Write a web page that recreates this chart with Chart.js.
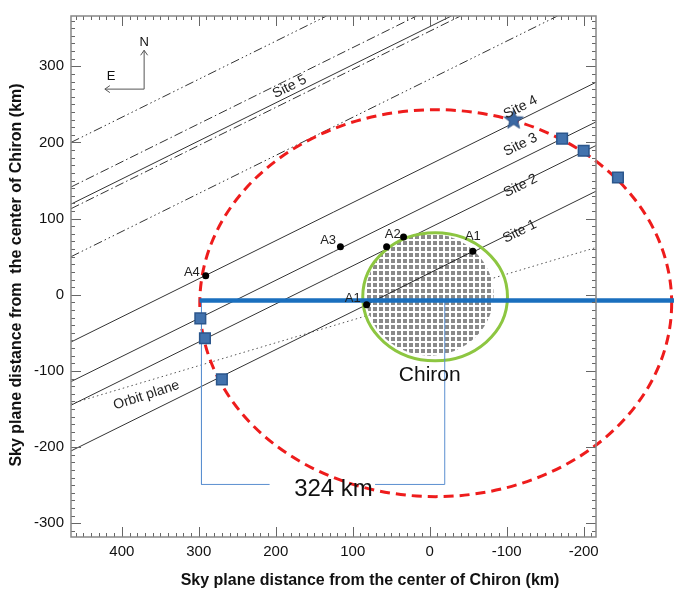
<!DOCTYPE html>
<html>
<head>
<meta charset="utf-8">
<script src="https://cdn.jsdelivr.net/npm/chart.js@4.4.1/dist/chart.umd.min.js"></script>
<style>
    html, body { margin: 0; padding: 0; background: #fff; }
    #wrap { width: 674px; height: 592px; }
</style>
</head>
<body>
<div id="wrap"><canvas id="occChart"></canvas></div>
<script>
// axis limits (km), x runs from east (left) to west (right)
const xMin = -216, xMax = 466;
const yMin = -318, yMax = 366;

// chords of sites 1-4: y where they cross the left frame (x=466) and the right frame (x=-216)
const siteNames = ["Site 1", "Site 2", "Site 3", "Site 4"];
const siteLeftY = [-205, -145, -114, -62];
const siteRightY = [136, 196, 227, 279];

// site 5 and its error lines: y on the left frame, x where they leave through the top frame
const upperLeftY = [200, 141.5, 119, 113, 50];
const upperTopX = [134, 17, -28, -40, -166];

// orbit plane
const orbitX = [466, -216];
const orbitY = [-143, 62];

// chord through the body between the two A1 contacts
const chordX = [82, -56];
const chordY = [-13, 57];

// contact points
const contactX = [82, -56, 56, 34, 116, 291];
const contactY = [-13, 57, 63, 76, 63, 25];

// ring detections (squares) and the star
const ringX = [298, 292, 270, -172, -200, -244.5];
const ringY = [-31, -57, -111, 205, 189, 154];
const starX = [-109];
const starY = [230];

// 324 km bracket and the thick blue line
const blueLineX = [299, -330];
const blueLineY = [-7.5, -7.5];
const bracketLeftX = [296.5, 296.5, 208];
const bracketLeftY = [-7.5, -249, -249];
const bracketRightX = [71, -19.5, -19.5];
const bracketRightY = [-249, -249, -7];

// ellipses: centre and semi axes (km)
const bodyShape = { cx: 0, cy: 0, rx: 83, ry: 80 };
const greenShape = { cx: -7, cy: -2.6, rx: 94, ry: 84 };
const ringShape = { cx: -7.8, cy: -11, rx: 306.5, ry: 254 };

// text labels
const textLabels = ["Site 1", "Site 2", "Site 3", "Site 4", "Site 5", "Orbit plane"];
const textX = [-117, -118, -118, -118, 182, 368];
const textY = [83, 143, 197, 246, 273, -132];
const textAngle = [-26.6, -26.6, -26.6, -26.6, -26.6, -18];

const contactNames = ["A1", "A1", "A2", "A3", "A4"];
const contactNameX = [100, -56, 48, 132, 309];
const contactNameY = [-5, 77, 79, 71, 30];

const DASH3 = [9, 3, 1.5, 3, 1.5, 3, 1.5, 3];
const DASH1 = [9, 3, 1.5, 3];
const upperDash = [DASH3, DASH1, [], DASH1, DASH3];

const FONT = "'Liberation Sans', Arial, sans-serif";

function toPts(xs, ys)
{
    return xs.map((x, i) => ({ x: x, y: ys[i] }));
}

// pattern for the body
const patCanvas = document.createElement("canvas");
patCanvas.width = 6;
patCanvas.height = 6;
const pctx = patCanvas.getContext("2d");
pctx.fillStyle = "#ffffff";
pctx.fillRect(0, 0, 6, 6);
pctx.fillStyle = "#8a8a8a";
pctx.fillRect(1, 1, 4, 4);
const bodyPattern = pctx.createPattern(patCanvas, "repeat");

// filled star marker
const starCanvas = document.createElement("canvas");
starCanvas.width = 22;
starCanvas.height = 22;
const sctx = starCanvas.getContext("2d");
sctx.beginPath();
for (let i = 0; i < 10; i++)
{
    const r = i % 2 === 0 ? 10 : 4.2;
    const a = -Math.PI / 2 + i * Math.PI / 5;
    const px = 11 + r * Math.cos(a);
    const py = 11.5 + r * Math.sin(a);
    if (i === 0) sctx.moveTo(px, py); else sctx.lineTo(px, py);
}
sctx.closePath();
sctx.fillStyle = "#3b68a3";
sctx.fill();
sctx.strokeStyle = "#2a4f82";
sctx.lineWidth = 1;
sctx.stroke();

const datasets = [];

siteNames.forEach((name, i) => {
    datasets.push({
        label: name,
        data: toPts([xMax, xMin], [siteLeftY[i], siteRightY[i]]),
        showLine: true,
        borderColor: "#333",
        borderWidth: 1,
        pointRadius: 0,
        order: 9
    });
});

upperLeftY.forEach((y0, i) => {
    datasets.push({
        label: "upper" + i,
        data: toPts([xMax, upperTopX[i]], [y0, yMax]),
        showLine: true,
        borderColor: "#333",
        borderWidth: 1,
        borderDash: upperDash[i],
        pointRadius: 0,
        order: 9
    });
});

datasets.push({
    label: "orbit",
    data: toPts(orbitX, orbitY),
    showLine: true,
    borderColor: "#555",
    borderWidth: 1,
    borderDash: [1.5, 3],
    pointRadius: 0,
    order: 9
});

datasets.push({
    label: "chord",
    data: toPts(chordX, chordY),
    showLine: true,
    borderColor: "#222",
    borderWidth: 1,
    pointRadius: 0,
    drawBefore: ["body", "green"],
    order: 7
});

datasets.push({
    label: "bracketL",
    data: toPts(bracketLeftX, bracketLeftY),
    showLine: true,
    borderColor: "#5b8fd0",
    borderWidth: 1,
    pointRadius: 0,
    drawBefore: ["ring"],
    order: 6
});

datasets.push({
    label: "bracketR",
    data: toPts(bracketRightX, bracketRightY),
    showLine: true,
    borderColor: "#5b8fd0",
    borderWidth: 1,
    pointRadius: 0,
    order: 6
});

datasets.push({
    label: "blue",
    data: toPts(blueLineX, blueLineY),
    showLine: true,
    borderColor: "#1a6fbe",
    borderWidth: 4.5,
    pointRadius: 0,
    clip: false,
    order: 5
});

datasets.push({
    label: "contacts",
    data: toPts(contactX, contactY),
    pointRadius: 3.5,
    pointBackgroundColor: "#000",
    pointBorderWidth: 0,
    order: 4
});

datasets.push({
    label: "ring",
    data: toPts(ringX, ringY),
    pointStyle: "rect",
    pointRadius: 7.5,
    pointBackgroundColor: "#4272ad",
    pointBorderColor: "#2b568c",
    pointBorderWidth: 1.5,
    clip: false,
    drawOutside: true,
    order: 3
});

datasets.push({
    label: "star",
    data: toPts(starX, starY),
    pointStyle: starCanvas,
    order: 2
});

function drawShape(chart, shape, style)
{
    const ctx = chart.ctx;
    const xs = chart.scales.x;
    const ys = chart.scales.y;
    const cx = xs.getPixelForValue(shape.cx);
    const cy = ys.getPixelForValue(shape.cy);
    const rx = Math.abs(xs.getPixelForValue(shape.cx + shape.rx) - cx);
    const ry = Math.abs(ys.getPixelForValue(shape.cy + shape.ry) - cy);
    ctx.save();
    ctx.beginPath();
    ctx.ellipse(cx, cy, rx, ry, 0, 0, Math.PI * 2);
    if (style.fill)
    {
        ctx.fillStyle = style.fill;
        ctx.fill();
    }
    if (style.stroke)
    {
        ctx.strokeStyle = style.stroke;
        ctx.lineWidth = style.width;
        ctx.setLineDash(style.dash || []);
        ctx.stroke();
    }
    ctx.restore();
}

const shapes = {
    body: () => [bodyShape, { fill: bodyPattern }],
    green: () => [greenShape, { stroke: "#8dc641", width: 3 }],
    ring: () => [ringShape, { stroke: "#ee1c1c", width: 3, dash: [10, 6] }]
};

function drawText(ctx, text, x, y, size, angle, weight)
{
    ctx.save();
    ctx.translate(x, y);
    ctx.rotate(angle * Math.PI / 180);
    ctx.font = (weight || "normal") + " " + size + "px " + FONT;
    ctx.textAlign = "center";
    ctx.textBaseline = "middle";
    ctx.fillText(text, 0, 0);
    ctx.restore();
}

const decorPlugin = {
    id: "decor",
    beforeDatasetDraw(chart, args)
    {
        const ds = chart.data.datasets[args.index];
        if (ds.drawBefore)
        {
            ds.drawBefore.forEach(name => {
                const s = shapes[name]();
                drawShape(chart, s[0], s[1]);
            });
        }
    },
    afterDatasetDraw(chart, args)
    {
        // Chart.js skips points outside the chart area, the reference shows one there
        const ds = chart.data.datasets[args.index];
        if (!ds.drawOutside) return;
        const area = chart.chartArea;
        const ctx = chart.ctx;
        args.meta.data.forEach(el => {
            if (el.x >= area.left && el.x <= area.right && el.y >= area.top && el.y <= area.bottom) return;
            const o = el.options;
            const half = Math.SQRT1_2 * o.radius;
            ctx.save();
            ctx.fillStyle = o.backgroundColor;
            ctx.strokeStyle = o.borderColor;
            ctx.lineWidth = o.borderWidth;
            ctx.beginPath();
            ctx.rect(el.x - half, el.y - half, 2 * half, 2 * half);
            ctx.fill();
            ctx.stroke();
            ctx.restore();
        });
    },
    afterDatasetsDraw(chart)
    {
        const ctx = chart.ctx;
        const xs = chart.scales.x;
        const ys = chart.scales.y;
        const area = chart.chartArea;

        // labels on the chords
        ctx.fillStyle = "#222";
        textLabels.forEach((t, i) => {
            drawText(ctx, t, xs.getPixelForValue(textX[i]), ys.getPixelForValue(textY[i]), 14, textAngle[i]);
        });
        contactNames.forEach((t, i) => {
            drawText(ctx, t, xs.getPixelForValue(contactNameX[i]), ys.getPixelForValue(contactNameY[i]), 13, 0);
        });
        ctx.fillStyle = "#111";
        drawText(ctx, "Chiron", xs.getPixelForValue(0), ys.getPixelForValue(-106), 21, 0);
        drawText(ctx, "324 km", xs.getPixelForValue(125), ys.getPixelForValue(-255), 24, 0);

        // compass
        const ox = xs.getPixelForValue(371), oy = ys.getPixelForValue(270);
        const nY = ys.getPixelForValue(321), eX = xs.getPixelForValue(422);
        ctx.save();
        ctx.strokeStyle = "#555";
        ctx.lineWidth = 1;
        ctx.beginPath();
        ctx.moveTo(ox, oy); ctx.lineTo(ox, nY);
        ctx.moveTo(ox - 3.5, nY + 5); ctx.lineTo(ox, nY); ctx.lineTo(ox + 3.5, nY + 5);
        ctx.moveTo(ox, oy); ctx.lineTo(eX, oy);
        ctx.moveTo(eX + 5, oy - 3.5); ctx.lineTo(eX, oy); ctx.lineTo(eX + 5, oy + 3.5);
        ctx.stroke();
        ctx.restore();
        ctx.fillStyle = "#111";
        drawText(ctx, "N", ox, ys.getPixelForValue(331), 13, 0);
        drawText(ctx, "E", xs.getPixelForValue(414), ys.getPixelForValue(287), 13, 0);

        // frame with inward ticks on all four sides
        ctx.save();
        ctx.strokeStyle = "#666";
        ctx.lineWidth = 1;
        ctx.beginPath();
        for (let v = -210; v <= 460; v += 10)
        {
            const p = Math.round(xs.getPixelForValue(v)) + 0.5;
            const len = v % 100 === 0 ? 10 : 4;
            ctx.moveTo(p, area.bottom); ctx.lineTo(p, area.bottom - len);
            ctx.moveTo(p, area.top); ctx.lineTo(p, area.top + len);
        }
        for (let v = -310; v <= 360; v += 10)
        {
            const p = Math.round(ys.getPixelForValue(v)) + 0.5;
            const len = v % 100 === 0 ? 10 : 4;
            ctx.moveTo(area.left, p); ctx.lineTo(area.left + len, p);
            ctx.moveTo(area.right, p); ctx.lineTo(area.right - len, p);
        }
        ctx.stroke();
        ctx.strokeStyle = "#888";
        ctx.lineWidth = 1.5;
        ctx.strokeRect(area.left, area.top, area.right - area.left, area.bottom - area.top);
        ctx.restore();

        // axis titles
        ctx.fillStyle = "#111";
        drawText(ctx, "Sky plane distance from the center of Chiron (km)", 370, 581, 16, 0, "bold");
        drawText(ctx, "Sky plane distance from  the center of Chiron (km)", 17, 275, 16, -90, "bold");
    }
};

const ctx = document.getElementById("occChart").getContext("2d");
const occChart = new Chart(ctx, {
    type: "scatter",
    data: { datasets: datasets },
    options: {
        responsive: true,
        maintainAspectRatio: false,
        animation: false,
        events: [],
        layout: { padding: { top: 10, right: 78, left: 0, bottom: 0 } },
        plugins: {
            legend: { display: false },
            tooltip: { enabled: false }
        },
        scales: {
            x: {
                type: "linear",
                reverse: true,
                min: xMin,
                max: xMax,
                grid: { display: false, drawTicks: false },
                border: { display: false },
                ticks: {
                    stepSize: 100,
                    includeBounds: false,
                    padding: 6,
                    maxRotation: 0,
                    color: "#111",
                    font: { family: FONT, size: 15 }
                },
                afterFit(scale) { scale.height = 55; }
            },
            y: {
                type: "linear",
                min: yMin,
                max: yMax,
                grid: { display: false, drawTicks: false },
                border: { display: false },
                ticks: {
                    stepSize: 100,
                    includeBounds: false,
                    padding: 7,
                    color: "#111",
                    font: { family: FONT, size: 15 }
                },
                afterFit(scale) { scale.width = 71; }
            }
        }
    },
    plugins: [decorPlugin]
});
</script>
</body>
</html>
